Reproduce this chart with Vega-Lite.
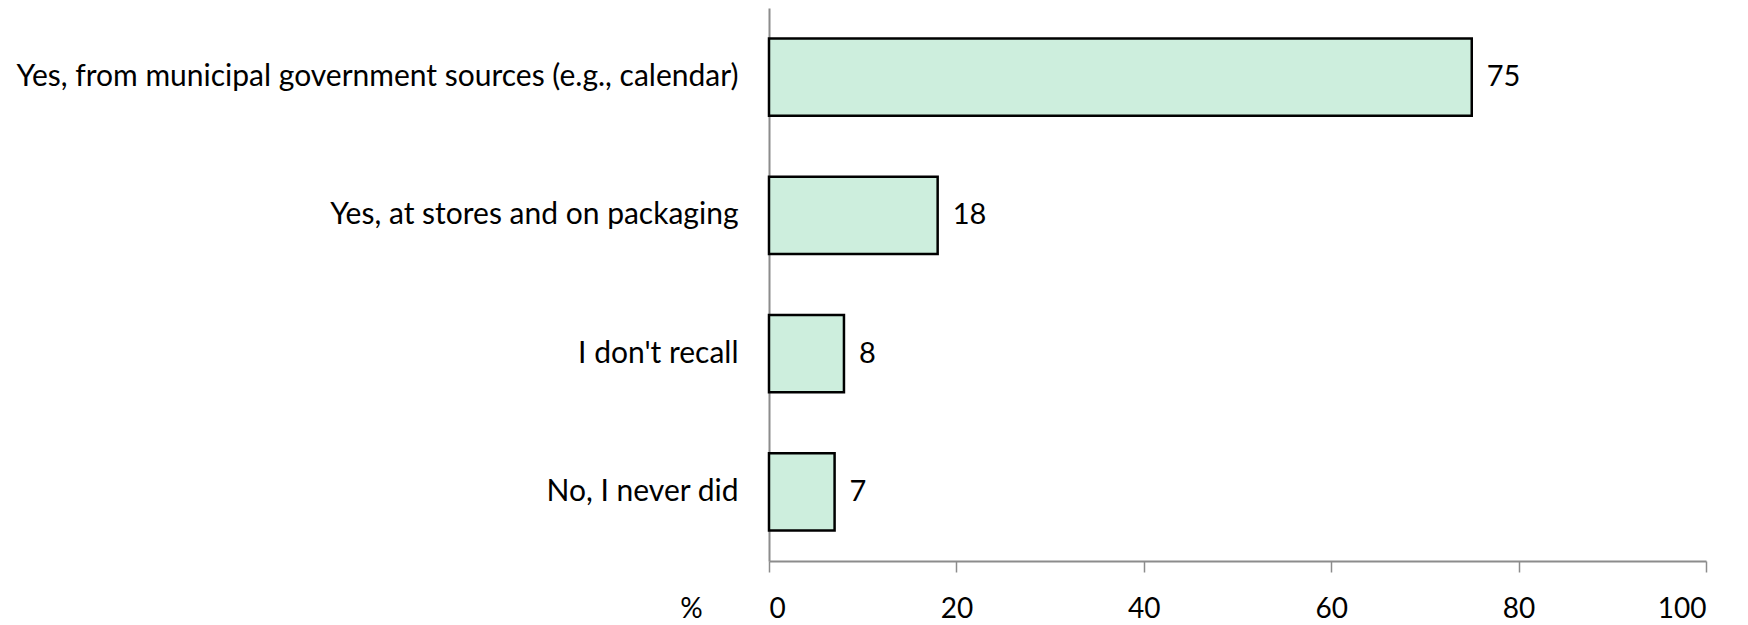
{
  "$schema": "https://vega.github.io/schema/vega-lite/v6.json",
  "autosize": "none",
  "width": 937,
  "height": 553,
  "padding": {"left": 769, "top": 8, "right": 42, "bottom": 64},
  "background": "white",
  "config": {
    "view": {"stroke": null},
    "font": "Lato"
  },
  "data": {
    "values": [
      {"answer": "Yes, from municipal government sources (e.g., calendar)", "pct": 75},
      {"answer": "Yes, at stores and on packaging", "pct": 18},
      {"answer": "I don't recall", "pct": 8},
      {"answer": "No, I never did", "pct": 7}
    ]
  },
  "encoding": {
    "y": {
      "field": "answer",
      "type": "nominal",
      "sort": null,
      "scale": {"paddingInner": 0.44, "paddingOuter": 0.22},
      "axis": {
        "title": null,
        "ticks": false,
        "domainColor": "#8c8c8c",
        "domainWidth": 2,
        "labelFontSize": 30,
        "labelColor": "#000000",
        "labelPadding": 31,
        "labelLimit": 800,
        "labelFont": "Lato"
      }
    },
    "x": {
      "field": "pct",
      "type": "quantitative",
      "scale": {"domain": [0, 100], "nice": false},
      "axis": {
        "title": "%",
        "values": [0, 20, 40, 60, 80, 100],
        "grid": false,
        "domainColor": "#8c8c8c",
        "domainWidth": 2,
        "tickColor": "#8c8c8c",
        "tickWidth": 1.5,
        "tickSize": 11,
        "labelFontSize": 28,
        "labelColor": "#000000",
        "labelPadding": 23,
        "labelFont": "Lato",
        "titleFont": "Lato",
        "titleFontSize": 28,
        "titleFontWeight": "normal",
        "titleColor": "#000000",
        "titleX": -78,
        "titleY": 56,
        "titleAlign": "center",
        "titleBaseline": "alphabetic",
        "titleAnchor": null
      }
    }
  },
  "layer": [
    {
      "mark": {"type": "bar", "fill": "#cdeedd", "stroke": "#000000", "strokeWidth": 2.5}
    },
    {
      "mark": {"type": "text", "align": "left", "baseline": "middle", "dx": 15, "fontSize": 29, "color": "#000000", "font": "Lato"},
      "encoding": {"text": {"field": "pct", "type": "quantitative"}}
    }
  ]
}
